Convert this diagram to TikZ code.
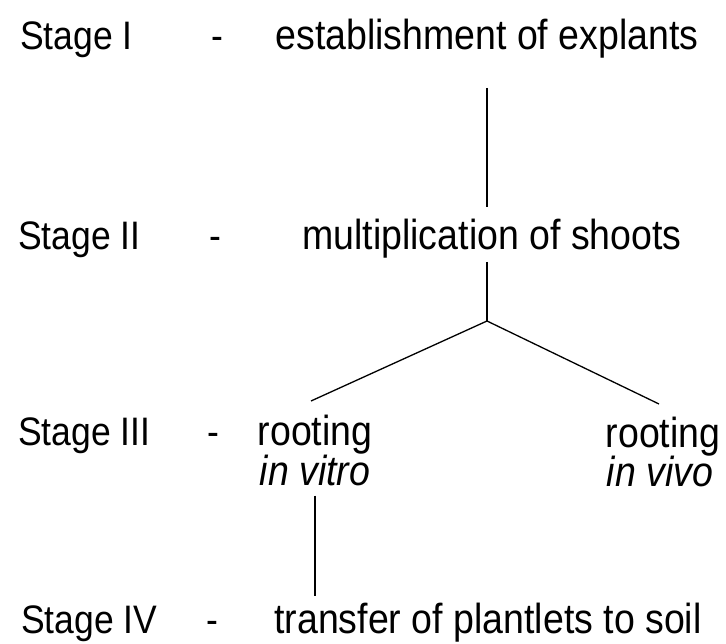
\documentclass[tikz,border=0pt]{standalone}
\usepackage{fontspec}
\setmainfont{Liberation Sans}
\newcommand\tallt[1]{\scalebox{1}[1.12]{#1}}
\begin{document}
\begin{tikzpicture}[x=1pt,y=-1pt,
  stage/.style={anchor=base west, inner sep=0pt, font=\fontsize{35.5}{40}\selectfont},
  dashmark/.style={anchor=base, inner sep=0pt, font=\fontsize{35.5}{40}\selectfont},
  txt/.style={anchor=base, inner sep=0pt, font=\fontsize{37.5}{42}\selectfont},
  conn/.style={draw=black, line width=1.3pt}]
\useasboundingbox (0,0) rectangle (726,644);
% stage labels
\node[stage] (s1) at (20,50) {\tallt{Stage I}};
\node[stage] (s2) at (18,250) {\tallt{Stage II}};
\node[stage] (s3) at (18,446) {\tallt{Stage III}};
\node[stage] (s4) at (21,633) {\tallt{Stage IV}};
% dashes
\node[dashmark] (d1) at (217,50) {\tallt{-}};
\node[dashmark] (d2) at (215,250) {\tallt{-}};
\node[dashmark] (d3) at (213,446) {\tallt{-}};
\node[dashmark] (d4) at (212,633) {\tallt{-}};
% contents
\node[txt] (est) at (487,50) {\tallt{establishment of explants}};
\node[txt] (mult) at (492,250) {\tallt{multiplication of shoots}};
\node[txt] (r1) at (315,446) {\tallt{rooting}};
\node[txt] (vitro) at (315,485) {\tallt{\itshape in vitro}};
\node[txt] (r2) at (663,447) {\tallt{rooting}};
\node[txt] (vivo) at (660,486) {\tallt{\itshape in vivo}};
\node[txt] (tr) at (488,633) {\tallt{transfer of plantlets to soil}};
% connectors
\coordinate (fork) at (487,321);
\coordinate (fL) at (311,401);
\coordinate (fR) at (659,404);
\draw[conn, shorten <=29pt, shorten >=12pt] (est.south -| fork) -- (mult.north -| fork);
\draw[conn, shorten <=3pt] (mult.south -| fork) -- (fork);
\draw[conn] (fork) -- (fL);
\draw[conn] (fork) -- (fR);
\draw[conn, shorten <=10pt, shorten >=6pt] (vitro.south) -- (vitro.south |- tr.north);
\end{tikzpicture}
\end{document}
